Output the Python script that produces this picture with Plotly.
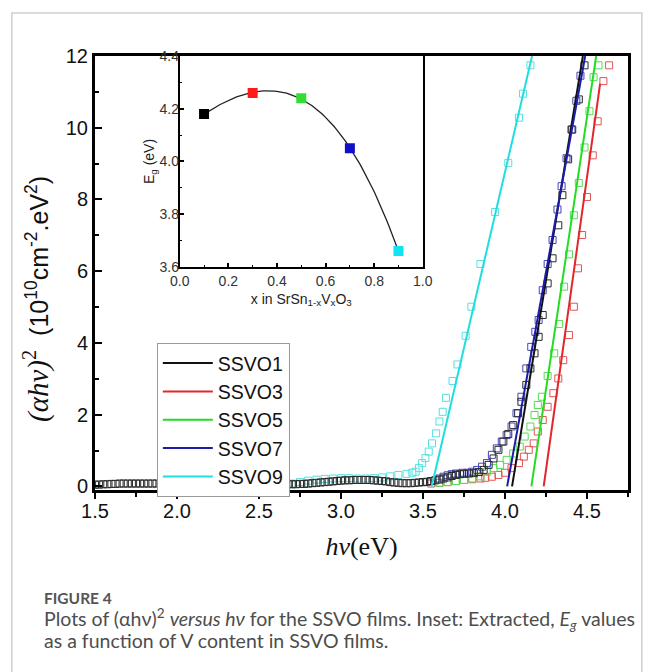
import numpy as np
import plotly.graph_objects as go

# ---- main panel: (alpha h nu)^2 vs h nu -------------------------------------
hv_ssvo1 = [
    1.500, 1.525, 1.550, 1.575, 1.600, 1.625, 1.650, 1.675, 1.700, 1.725,
    1.750, 1.775, 1.800, 1.825, 1.850, 1.875, 1.900, 1.925, 1.950, 1.975,
    2.000, 2.025, 2.050, 2.075, 2.100, 2.125, 2.150, 2.175, 2.200, 2.225,
    2.250, 2.275, 2.300, 2.325, 2.350, 2.375, 2.400, 2.425, 2.450, 2.475,
    2.500, 2.525, 2.550, 2.575, 2.600, 2.625, 2.650, 2.675, 2.700, 2.725,
    2.750, 2.775, 2.800, 2.825, 2.850, 2.875, 2.900, 2.925, 2.950, 2.975,
    3.000, 3.025, 3.050, 3.075, 3.100, 3.125, 3.150, 3.175, 3.200, 3.225,
    3.250, 3.275, 3.300, 3.325, 3.350, 3.375, 3.400, 3.425, 3.450, 3.475,
    3.500, 3.525, 3.550, 3.575, 3.600, 3.625, 3.650, 3.675, 3.700, 3.725,
    3.750, 3.780, 3.810, 3.840, 3.870, 3.900, 3.930, 3.960, 3.990, 4.020,
    4.050, 4.080, 4.100, 4.130, 4.155, 4.180, 4.205, 4.230, 4.260, 4.290,
    4.325, 4.350, 4.385, 4.410, 4.450, 4.485,
]
a2_ssvo1 = [
    0.05, 0.05, 0.06, 0.06, 0.07, 0.07, 0.08, 0.08, 0.08, 0.08,
    0.08, 0.08, 0.08, 0.08, 0.08, 0.08, 0.08, 0.08, 0.07, 0.07,
    0.07, 0.07, 0.07, 0.07, 0.07, 0.07, 0.07, 0.07, 0.07, 0.07,
    0.06, 0.06, 0.06, 0.06, 0.06, 0.06, 0.06, 0.06, 0.06, 0.06,
    0.06, 0.06, 0.06, 0.06, 0.06, 0.06, 0.06, 0.06, 0.06, 0.06,
    0.07, 0.07, 0.08, 0.09, 0.10, 0.11, 0.12, 0.13, 0.14, 0.15,
    0.16, 0.17, 0.17, 0.18, 0.18, 0.18, 0.18, 0.18, 0.17, 0.16,
    0.15, 0.14, 0.12, 0.11, 0.10, 0.09, 0.09, 0.09, 0.10, 0.11,
    0.12, 0.13, 0.15, 0.17, 0.19, 0.22, 0.25, 0.29, 0.32, 0.34,
    0.35, 0.36, 0.37, 0.40, 0.46, 0.60, 0.78, 1.02, 1.25, 1.46,
    1.71, 2.04, 2.36, 2.83, 3.29, 3.71, 4.17, 4.78, 5.66, 6.36,
    7.28, 8.12, 9.12, 9.95, 10.79, 11.74,
]

hv_ssvo3 = [
    3.55, 3.60, 3.65, 3.70, 3.75, 3.80, 3.85, 3.88, 3.92, 3.96, 4.00, 4.04,
    4.085, 4.115, 4.145, 4.175, 4.20, 4.23, 4.26, 4.295, 4.325, 4.355, 4.39,
    4.42, 4.445, 4.47, 4.50, 4.535, 4.565, 4.60, 4.635,
]
a2_ssvo3 = [
    0.08, 0.10, 0.12, 0.15, 0.18, 0.20, 0.22, 0.24, 0.27, 0.32, 0.38, 0.51,
    0.65, 0.83, 1.02, 1.20, 1.53, 1.85, 2.22, 2.60, 3.01, 3.52, 4.22,
    5.01, 6.08, 7.01, 8.07, 9.23, 10.18, 11.30, 11.74,
]

hv_ssvo5 = [
    3.60, 3.65, 3.70, 3.75, 3.80, 3.85, 3.89, 3.93, 3.97, 4.01, 4.05, 4.09,
    4.12, 4.155, 4.18, 4.20, 4.225, 4.26, 4.30, 4.33, 4.36, 4.39, 4.42,
    4.45, 4.485, 4.515, 4.54, 4.57,
]
a2_ssvo5 = [
    0.10, 0.12, 0.15, 0.18, 0.22, 0.28, 0.41, 0.51, 0.60, 0.74, 0.92, 1.11,
    1.39, 1.67, 1.99, 2.27, 2.50, 3.08, 3.71, 4.53, 5.57, 6.47, 7.56,
    8.46, 9.45, 10.46, 11.41, 11.74,
]

hv_ssvo7 = [
    3.50, 3.55, 3.60, 3.625, 3.65, 3.675, 3.70, 3.74, 3.77, 3.80, 3.83, 3.86,
    3.89, 3.92, 3.95, 3.98, 4.01, 4.04, 4.07, 4.10, 4.13, 4.16, 4.185, 4.205,
    4.23, 4.26, 4.29, 4.32, 4.345, 4.375, 4.405, 4.435, 4.46,
]
a2_ssvo7 = [
    0.12, 0.15, 0.22, 0.27, 0.31, 0.34, 0.36, 0.38, 0.38, 0.41, 0.46, 0.55,
    0.65, 0.88, 1.06, 1.25, 1.43, 1.67, 2.04, 2.50, 3.29, 3.89, 4.31, 4.64,
    5.47, 6.20, 6.87, 7.72, 8.37, 9.15, 9.95, 10.75, 11.45,
]

hv_ssvo9 = [
    2.70, 2.75, 2.80, 2.85, 2.90, 2.95, 3.00, 3.05, 3.10, 3.15, 3.20, 3.25,
    3.30, 3.35, 3.40, 3.435, 3.455, 3.475, 3.495, 3.515, 3.535, 3.555, 3.58,
    3.60, 3.62, 3.64, 3.68, 3.71, 3.76, 3.795, 3.85, 3.94, 4.02, 4.085, 4.11,
    4.155,
]
a2_ssvo9 = [
    0.08, 0.12, 0.16, 0.19, 0.21, 0.22, 0.23, 0.23, 0.22, 0.22, 0.23, 0.25,
    0.28, 0.32, 0.35, 0.38, 0.41, 0.51, 0.65, 0.79, 0.97, 1.20, 1.48,
    1.81, 2.08, 2.47, 2.94, 3.40, 4.20, 5.01, 6.20, 7.65, 9.02, 10.28, 10.95,
    11.74,
]

# linear Tauc fits: (hv, y) at both ends of each drawn line
fit_hv = {
    "SSVO1": [4.043, 4.475],
    "SSVO3": [4.236, 4.580],
    "SSVO5": [4.161, 4.556],
    "SSVO7": [4.013, 4.489],
    "SSVO9": [3.553, 4.165],
}
fit_a2 = {
    "SSVO1": [0, 12.0],
    "SSVO3": [0, 11.23],
    "SSVO5": [0, 12.0],
    "SSVO7": [0, 12.0],
    "SSVO9": [0, 12.0],
}

# ---- inset: band gap vs V content ------------------------------------------
x_v = [0.1, 0.3, 0.5, 0.7, 0.9]
eg = [4.18, 4.26, 4.24, 4.05, 3.66]

NAMES = ["SSVO1", "SSVO3", "SSVO5", "SSVO7", "SSVO9"]
LINE_COLOR = {"SSVO1": "#111111", "SSVO3": "#e3262a", "SSVO5": "#22dd22",
              "SSVO7": "#1c1ca6", "SSVO9": "#20dede"}
SQ_COLOR = {"SSVO1": "#2a2a2a", "SSVO3": "#e05555", "SSVO5": "#55dd55",
            "SSVO7": "#4444bb", "SSVO9": "#55e0e0"}
DOT_COLOR = ["#000000", "#ff1a1a", "#33dd33", "#1010c8", "#10e4f0"]

SANS = "Liberation Sans, Arial, sans-serif"
SERIF = "Liberation Serif, Times New Roman, serif"
CAPTION = "Lato, Noto Sans, sans-serif"

data = {
    "SSVO1": (hv_ssvo1, a2_ssvo1),
    "SSVO3": (hv_ssvo3, a2_ssvo3),
    "SSVO5": (hv_ssvo5, a2_ssvo5),
    "SSVO7": (hv_ssvo7, a2_ssvo7),
    "SSVO9": (hv_ssvo9, a2_ssvo9),
}

fig = go.Figure()

# squares first (black last so the dense baseline stays dark)
for name in ["SSVO9", "SSVO3", "SSVO5", "SSVO7", "SSVO1"]:
    hv, a2 = data[name]
    fig.add_trace(go.Scatter(
        x=hv, y=a2, mode="markers", showlegend=False,
        marker=dict(symbol="square-open", size=7, color=SQ_COLOR[name],
                    line=dict(width=1)),
    ))

for name in NAMES:
    fig.add_trace(go.Scatter(
        x=fit_hv[name], y=fit_a2[name], mode="lines", name=name,
        line=dict(color=LINE_COLOR[name], width=2),
    ))

# inset: polynomial guide curve + points
coef = np.polyfit(x_v, eg, 3)
xs = np.linspace(x_v[0], x_v[-1], 100)
fig.add_trace(go.Scatter(
    x=xs, y=np.polyval(coef, xs), mode="lines", showlegend=False,
    line=dict(color="#222222", width=1.3), xaxis="x2", yaxis="y2",
))
fig.add_trace(go.Scatter(
    x=x_v, y=eg, mode="markers", showlegend=False, xaxis="x2", yaxis="y2",
    marker=dict(symbol="square", size=10, color=DOT_COLOR),
))

# the page body adds an 8px margin, so the figure is 8px smaller each way
fig.update_layout(
    width=646, height=664,
    margin=dict(l=87, r=26, t=48, b=182),
    paper_bgcolor="white", plot_bgcolor="white",
    font=dict(family=SANS, color="#111111"),
    xaxis=dict(
        range=[1.5, 4.75], dtick=0.5, tickformat=".1f",
        showgrid=False, zeroline=False,
        showline=True, linecolor="black", linewidth=3, mirror=True,
        ticks="outside", ticklen=6, tickwidth=2, tickcolor="black",
        minor=dict(dtick=0.25, ticks="outside", ticklen=4, tickwidth=2,
                   tickcolor="black"),
        ticklabelstandoff=-5,
        tickfont=dict(size=20, family=SANS, color="#111111"),
        title=dict(text="<i>hν</i>(eV)", standoff=16,
                   font=dict(size=26, family=SERIF, color="#111111")),
    ),
    yaxis=dict(
        range=[-0.1, 12], dtick=2,
        showgrid=False, zeroline=False,
        showline=True, linecolor="black", linewidth=3, mirror=True,
        ticks="inside", ticklen=7, tickwidth=2, tickcolor="black",
        minor=dict(dtick=1, ticks="inside", ticklen=4, tickwidth=2,
                   tickcolor="black"),
        tickfont=dict(size=20, family=SANS, color="#111111"),
    ),
    xaxis2=dict(
        domain=[0.159, 0.615], anchor="y2", range=[0, 1.0], dtick=0.2,
        tickformat=".1f", showgrid=False, zeroline=False,
        showline=True, linecolor="black", linewidth=2, mirror=True,
        ticks="inside", ticklen=4, tickwidth=1.5, tickcolor="black",
        minor=dict(dtick=0.1, ticks="inside", ticklen=2, tickwidth=1,
                   tickcolor="black"),
        tickfont=dict(size=14, family=SANS, color="#333333"),
        title=dict(text="x in SrSn<sub>1-x</sub>V<sub>x</sub>O<sub>3</sub>",
                   standoff=6, font=dict(size=14, family=SANS, color="#222222")),
    ),
    yaxis2=dict(
        domain=[0.514, 1.0], anchor="x2", range=[3.6, 4.4], dtick=0.2,
        tickformat=".1f", showgrid=False, zeroline=False,
        showline=True, linecolor="black", linewidth=2, mirror=True,
        ticks="inside", ticklen=4, tickwidth=1.5, tickcolor="black",
        minor=dict(dtick=0.1, ticks="inside", ticklen=2, tickwidth=1,
                   tickcolor="black"),
        ticklabelstandoff=-4,
        tickfont=dict(size=14, family=SANS, color="#333333"),
        title=dict(text="E<sub>g</sub> (eV)", standoff=2,
                   font=dict(size=14, family=SANS, color="#222222")),
    ),
    legend=dict(
        x=0.116, y=0.339, xanchor="left", yanchor="top",
        bgcolor="white", bordercolor="#9a9a9a", borderwidth=1,
        font=dict(size=19.5, family=SANS, color="#111111"),
        itemwidth=50, tracegroupgap=0,
    ),
)

# y-axis title, placed by hand (it sits a little below the axis centre)
fig.add_annotation(
    text="<span style=\"font-family:Liberation Serif;font-size:29px\">"
         "<i>(αhν)</i><sup>2</sup></span>  "
         "(10<sup>10</sup>cm<sup>-2</sup>.eV<sup>2</sup>)",
    xref="paper", yref="paper", x=-0.111, y=0.44, textangle=-90,
    xanchor="center", yanchor="middle", showarrow=False,
    font=dict(size=25, family=SANS, color="#111111"),
)

# figure frame and caption
fig.add_shape(type="rect", xref="paper", yref="paper",
              x0=-0.156, x1=1.026, y0=-0.55, y1=1.099,
              line=dict(color="#cfcfcf", width=1.5), layer="below")

fig.add_annotation(
    text="FIGURE 4", xref="paper", yref="paper", x=-0.0994, y=-0.2488,
    xanchor="left", yanchor="middle", showarrow=False,
    font=dict(size=15.5, family=CAPTION, color="#555555", weight="bold"),
)
fig.add_annotation(
    text="Plots of (αhν)<sup>2</sup> <i>versus hν</i> for the SSVO films. "
         "Inset: Extracted, <i>E<sub>g</sub></i> values",
    xref="paper", yref="paper", x=-0.0994, y=-0.2972,
    xanchor="left", yanchor="middle", showarrow=False,
    font=dict(size=19.5, family=CAPTION, color="#4d4d4d"),
)
fig.add_annotation(
    text="as a function of V content in SSVO films.",
    xref="paper", yref="paper", x=-0.0994, y=-0.3479,
    xanchor="left", yanchor="middle", showarrow=False,
    font=dict(size=19.5, family=CAPTION, color="#4d4d4d"),
)

fig.write_html("out.html")
